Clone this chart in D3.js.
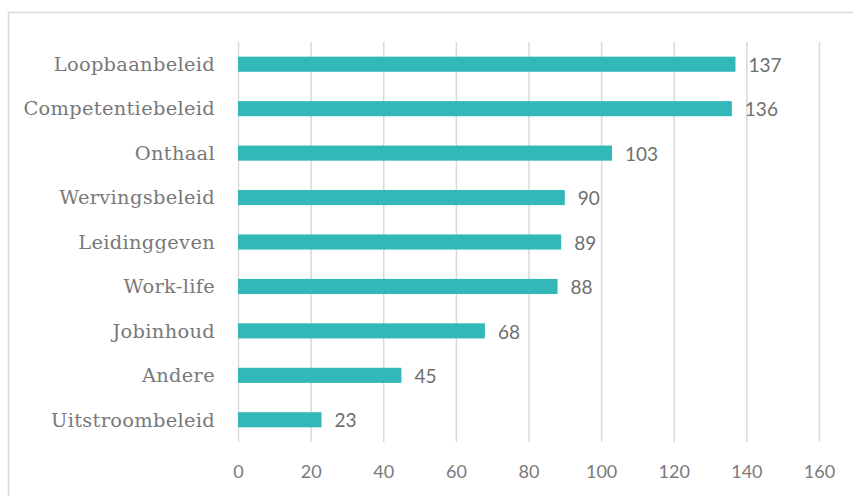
<!DOCTYPE html>
<html><head><meta charset="utf-8">
<script src="https://cdn.jsdelivr.net/npm/d3@7"></script>
<style>body{margin:0;background:#fff}svg{display:block}</style>
</head><body>
<svg id="c" width="853" height="496"></svg>
<script>
const categories = ["Loopbaanbeleid","Competentiebeleid","Onthaal","Wervingsbeleid","Leidinggeven","Work-life","Jobinhoud","Andere","Uitstroombeleid"];
const values = [137,136,103,90,89,88,68,45,23];
const ticks = [0,20,40,60,80,100,120,140,160];

const svg = d3.select("#c");
svg.append("rect").attr("x",8.5).attr("y",12.5).attr("width",900).attr("height",600)
  .attr("fill","#fff").attr("stroke","#d9d9d9").attr("stroke-width",1.5);

const x = d3.scaleLinear().domain([0,160]).range([238,819]);
const y = d3.scaleBand().domain(categories).range([42,442]).paddingInner(0.66).paddingOuter(0.33);

const g = svg.append("g");
g.selectAll("line.grid").data(ticks).join("line").attr("class","grid")
  .attr("x1",d=>x(d)+0.5).attr("x2",d=>x(d)+0.5).attr("y1",42).attr("y2",442)
  .attr("stroke","#d9d9d9").attr("stroke-width",1.5);

g.selectAll("rect.bar").data(values).join("rect").attr("class","bar")
  .attr("x",x(0)).attr("y",(d,i)=>y(categories[i]))
  .attr("width",d=>x(d)-x(0)).attr("height",y.bandwidth())
  .attr("fill","#32b8b9");

g.selectAll("text.val").data(values).join("text").attr("class","val")
  .attr("x",d=>x(d)+13).attr("y",(d,i)=>y(categories[i])+y.bandwidth()/2+1)
  .attr("dy","0.35em").attr("font-family","Lato, 'Open Sans', sans-serif").attr("font-size",19)
  .attr("fill","#6f6f6f").text(d=>d);

const cats = g.selectAll("text.cat").data(categories).join("text").attr("class","cat")
  .attr("x",215).attr("y",d=>y(d)+y.bandwidth()/2).attr("dy","0.35em")
  .attr("text-anchor","end").attr("font-family","'DejaVu Serif', serif").attr("font-size",17)
  .attr("letter-spacing","0.3px")
  .attr("fill","#787878").text(d=>d);
// fit width of the first label to the reference (~162px)
const w0 = cats.node().getComputedTextLength();
const fs = Math.min(21, 17 * 162 / w0);
cats.attr("font-size", fs);

const xAxis = d3.axisBottom(x).tickValues(ticks).tickSize(0).tickPadding(0);
const ax = svg.append("g").attr("transform","translate(0,472)").call(xAxis);
ax.select(".domain").remove();
ax.selectAll("text").attr("dy","0.35em").attr("font-family","Lato, 'Open Sans', sans-serif")
  .attr("font-size",18).attr("fill","#7a7a7a");
</script>
</body></html>
